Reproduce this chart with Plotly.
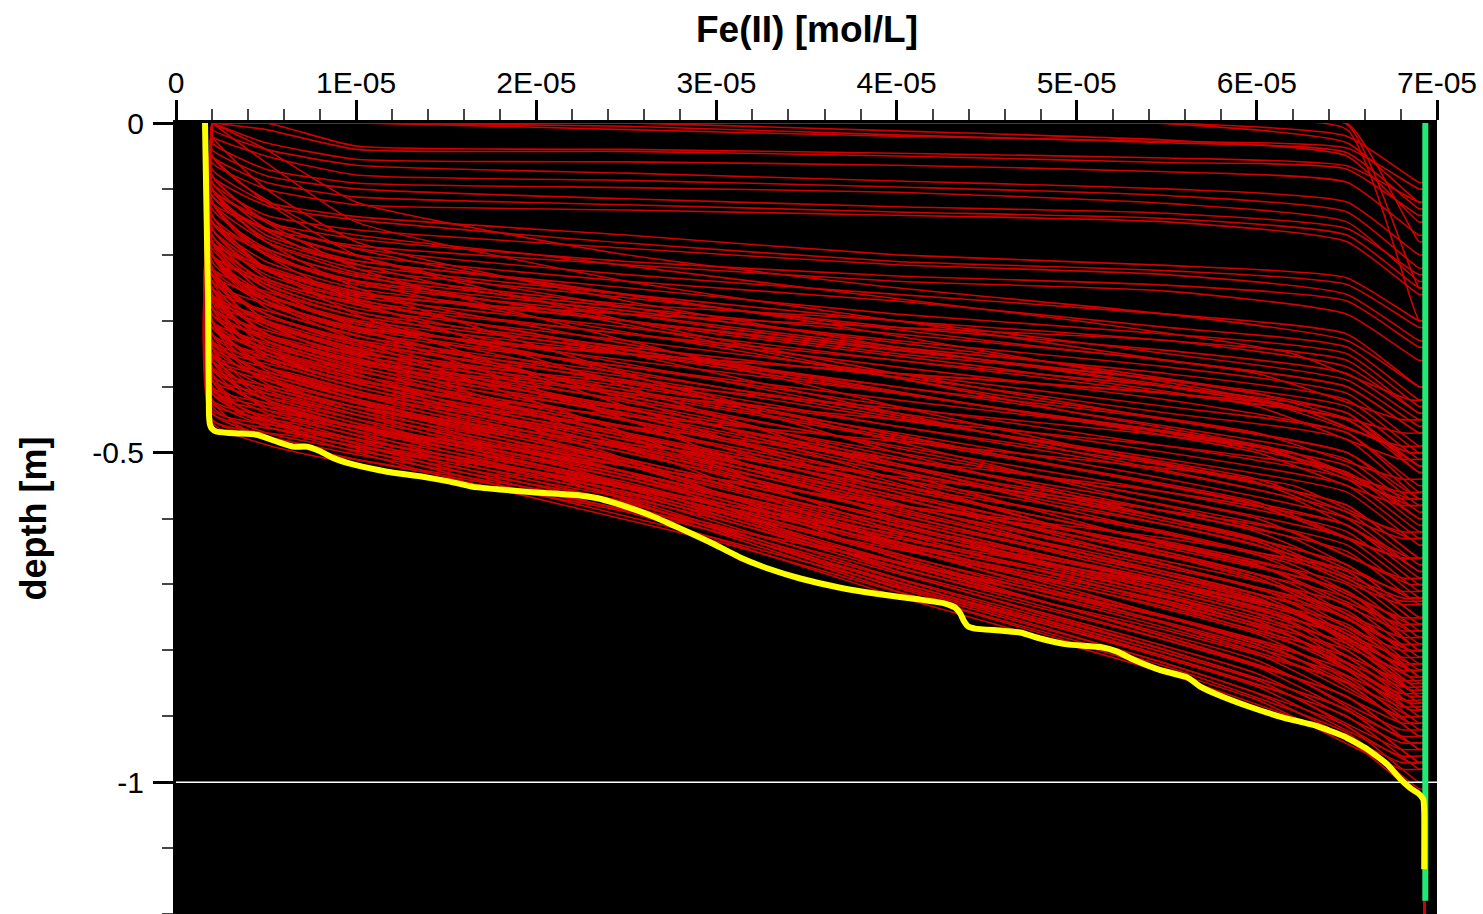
import plotly.graph_objects as go

# ---------------- data (concentrations in units of 1E-05 mol/L, depth in m) -------------
SCALE = 1e-5
X_START = 0.2          # every profile starts at the surface here
X_END = 6.93           # and ends on the right boundary value
Y_BOTTOM = -1.2

# --- profile family A: depth at X_NODES_A
X_NODES_A = [0.2, 0.5, 1.0, 2.5, 4.0, 5.5, 6.5, 6.9]
TOP_LINES = [
    [0, 0, 0, -0.01, -0.02, -0.028, -0.038, -0.10],
    [0, 0, 0, -0.005, -0.018, -0.03, -0.045, -0.13],
    [0, 0, 0, 0, -0.012, -0.026, -0.05, -0.15],
    [0, 0, -0.035, -0.04, -0.046, -0.053, -0.065, -0.12],
    [0, -0.01, -0.04, -0.043, -0.05, -0.06, -0.07, -0.14],
    [0, -0.03, -0.055, -0.059, -0.064, -0.074, -0.09, -0.17],
    [-0.01, -0.04, -0.064, -0.076, -0.088, -0.10, -0.12, -0.20],
    [-0.02, -0.05, -0.079, -0.087, -0.097, -0.11, -0.135, -0.22],
    [-0.03, -0.07, -0.091, -0.098, -0.105, -0.122, -0.15, -0.24],
    [-0.04, -0.08, -0.10, -0.115, -0.127, -0.137, -0.16, -0.23],
    [-0.05, -0.09, -0.112, -0.124, -0.135, -0.145, -0.17, -0.25],
    [-0.06, -0.10, -0.124, -0.132, -0.14, -0.15, -0.18, -0.26],
    [-0.07, -0.12, -0.142, -0.17, -0.20, -0.216, -0.235, -0.30],
    [-0.08, -0.125, -0.147, -0.182, -0.21, -0.224, -0.245, -0.31],
    [-0.09, -0.14, -0.162, -0.19, -0.215, -0.23, -0.26, -0.33],
    [-0.10, -0.15, -0.176, -0.21, -0.232, -0.246, -0.27, -0.34],
    [-0.11, -0.16, -0.186, -0.215, -0.24, -0.255, -0.29, -0.36],
    [0, 0, 0, 0, 0, 0, -0.02, -0.09],
    [0, 0, 0, 0, 0, -0.001, -0.03, -0.12],
    [0, 0, 0, 0, 0, 0, 0, -0.18],
    [0, 0, 0, 0, 0, 0, -0.002, -0.25],
    [0, 0, 0, 0, 0, 0, -0.01, -0.30],
]
MAIN_LINES = [
    [-0.08, -0.15, -0.19, -0.23, -0.26, -0.29, -0.32, -0.40],
    [-0.09, -0.16, -0.20, -0.24, -0.27, -0.31, -0.34, -0.42],
    [-0.10, -0.17, -0.209, -0.25, -0.29, -0.32, -0.35, -0.43],
    [-0.11, -0.175, -0.215, -0.26, -0.30, -0.33, -0.37, -0.44],
    [-0.12, -0.18, -0.221, -0.265, -0.31, -0.345, -0.38, -0.45],
    [-0.10, -0.18, -0.227, -0.275, -0.30, -0.35, -0.39, -0.46],
    [-0.13, -0.19, -0.233, -0.28, -0.32, -0.36, -0.40, -0.47],
    [-0.14, -0.20, -0.239, -0.285, -0.33, -0.37, -0.41, -0.49],
    [-0.12, -0.20, -0.245, -0.29, -0.34, -0.38, -0.42, -0.50],
    [-0.15, -0.21, -0.251, -0.30, -0.345, -0.39, -0.43, -0.51],
    [-0.16, -0.22, -0.257, -0.30, -0.35, -0.39, -0.44, -0.52],
    [-0.14, -0.22, -0.263, -0.31, -0.36, -0.40, -0.44, -0.53],
    [-0.17, -0.23, -0.269, -0.32, -0.36, -0.41, -0.45, -0.53],
    [-0.16, -0.235, -0.275, -0.32, -0.37, -0.42, -0.47, -0.55],
    [-0.18, -0.24, -0.281, -0.33, -0.38, -0.43, -0.47, -0.56],
    [-0.17, -0.245, -0.287, -0.34, -0.385, -0.44, -0.48, -0.57],
    [-0.19, -0.25, -0.293, -0.345, -0.40, -0.45, -0.50, -0.58],
    [-0.20, -0.26, -0.299, -0.35, -0.40, -0.46, -0.51, -0.59],
    [-0.18, -0.26, -0.305, -0.36, -0.41, -0.47, -0.52, -0.60],
    [-0.21, -0.27, -0.311, -0.37, -0.42, -0.47, -0.53, -0.61],
    [-0.22, -0.275, -0.317, -0.37, -0.43, -0.49, -0.54, -0.62],
    [-0.20, -0.28, -0.323, -0.38, -0.44, -0.50, -0.55, -0.63],
    [-0.23, -0.29, -0.329, -0.385, -0.45, -0.51, -0.56, -0.64],
    [-0.24, -0.29, -0.335, -0.39, -0.46, -0.52, -0.58, -0.66],
    [-0.22, -0.30, -0.341, -0.40, -0.46, -0.53, -0.59, -0.67],
    [-0.25, -0.305, -0.347, -0.405, -0.47, -0.54, -0.60, -0.68],
    [-0.26, -0.31, -0.353, -0.41, -0.48, -0.55, -0.61, -0.69],
    [-0.24, -0.32, -0.359, -0.42, -0.49, -0.56, -0.62, -0.70],
    [-0.27, -0.325, -0.365, -0.43, -0.50, -0.57, -0.63, -0.71],
    [-0.28, -0.33, -0.371, -0.435, -0.51, -0.58, -0.64, -0.72],
    [-0.26, -0.34, -0.377, -0.44, -0.52, -0.59, -0.65, -0.73],
    [-0.29, -0.345, -0.383, -0.45, -0.53, -0.60, -0.67, -0.75],
    [-0.30, -0.35, -0.389, -0.46, -0.54, -0.61, -0.68, -0.76],
    [-0.28, -0.355, -0.395, -0.47, -0.55, -0.62, -0.69, -0.77],
    [-0.31, -0.36, -0.401, -0.475, -0.555, -0.635, -0.70, -0.78],
    [-0.32, -0.37, -0.407, -0.48, -0.565, -0.645, -0.71, -0.79],
    [-0.30, -0.375, -0.413, -0.49, -0.57, -0.655, -0.72, -0.80],
    [-0.33, -0.38, -0.419, -0.495, -0.58, -0.665, -0.73, -0.81],
    [-0.34, -0.39, -0.425, -0.50, -0.59, -0.675, -0.74, -0.82],
    [-0.32, -0.395, -0.431, -0.51, -0.60, -0.685, -0.75, -0.83],
    [-0.35, -0.40, -0.437, -0.515, -0.61, -0.695, -0.77, -0.85],
    [-0.36, -0.41, -0.443, -0.52, -0.62, -0.705, -0.78, -0.86],
    [-0.34, -0.415, -0.449, -0.53, -0.63, -0.715, -0.79, -0.87],
    [-0.37, -0.42, -0.455, -0.535, -0.64, -0.725, -0.80, -0.88],
    [-0.38, -0.43, -0.461, -0.54, -0.645, -0.735, -0.81, -0.89],
    [-0.36, -0.435, -0.467, -0.545, -0.655, -0.75, -0.83, -0.91],
    [-0.39, -0.44, -0.473, -0.55, -0.665, -0.76, -0.84, -0.92],
    [-0.40, -0.45, -0.479, -0.555, -0.675, -0.77, -0.85, -0.93],
    [-0.41, -0.455, -0.485, -0.56, -0.68, -0.785, -0.87, -0.95],
    [-0.42, -0.46, -0.491, -0.565, -0.69, -0.80, -0.89, -0.97],
    [-0.43, -0.47, -0.497, -0.57, -0.70, -0.81, -0.90, -0.98],
    [-0.44, -0.475, -0.503, -0.575, -0.705, -0.82, -0.915, -1.00],
    [-0.45, -0.48, -0.51, -0.58, -0.71, -0.825, -0.925, -1.01],
    [-0.455, -0.488, -0.518, -0.59, -0.718, -0.835, -0.935, -1.02],
]
STEEP_LINES = [
    [0, -0.04, -0.12, -0.20, -0.25, -0.29, -0.33, -0.40],
    [0, -0.06, -0.15, -0.24, -0.30, -0.36, -0.40, -0.47],
    [-0.02, -0.10, -0.18, -0.27, -0.34, -0.40, -0.45, -0.52],
    [-0.05, -0.12, -0.20, -0.30, -0.38, -0.45, -0.50, -0.57],
    [-0.08, -0.15, -0.22, -0.33, -0.43, -0.52, -0.58, -0.66],
    [-0.10, -0.18, -0.25, -0.38, -0.50, -0.60, -0.67, -0.75],
    [-0.12, -0.20, -0.27, -0.40, -0.53, -0.64, -0.71, -0.80],
    [-0.15, -0.22, -0.29, -0.43, -0.56, -0.67, -0.75, -0.84],
    [-0.18, -0.25, -0.31, -0.45, -0.60, -0.70, -0.78, -0.87],
    [-0.20, -0.27, -0.33, -0.47, -0.62, -0.73, -0.82, -0.90],
    [-0.22, -0.30, -0.35, -0.49, -0.64, -0.76, -0.85, -0.93],
    [-0.26, -0.33, -0.38, -0.51, -0.66, -0.78, -0.87, -0.95],
    [-0.30, -0.37, -0.42, -0.53, -0.68, -0.80, -0.89, -0.97],
]
FLAT_LINES = [
    [-0.15, -0.22, -0.26, -0.29, -0.31, -0.33, -0.36, -0.44],
    [-0.20, -0.27, -0.31, -0.35, -0.38, -0.41, -0.45, -0.52],
    [-0.25, -0.32, -0.36, -0.41, -0.45, -0.49, -0.53, -0.60],
    [-0.30, -0.37, -0.41, -0.46, -0.51, -0.56, -0.61, -0.68],
    [-0.35, -0.42, -0.46, -0.52, -0.58, -0.63, -0.68, -0.76],
    [-0.40, -0.46, -0.49, -0.55, -0.63, -0.70, -0.76, -0.84],
]

# --- profile family B: depth at X_NODES_B
X_NODES_B = [0.2, 0.7, 1.5, 3.0, 4.5, 6.0, 6.8]
LATE_LINES = [
    [-0.10, -0.17, -0.22, -0.28, -0.33, -0.38, -0.45],
    [-0.12, -0.18, -0.233, -0.30, -0.35, -0.41, -0.47],
    [-0.11, -0.19, -0.246, -0.31, -0.36, -0.42, -0.49],
    [-0.15, -0.21, -0.258, -0.32, -0.37, -0.43, -0.51],
    [-0.15, -0.22, -0.271, -0.34, -0.41, -0.47, -0.54],
    [-0.18, -0.235, -0.284, -0.36, -0.43, -0.49, -0.56],
    [-0.18, -0.245, -0.297, -0.365, -0.43, -0.50, -0.58],
    [-0.20, -0.255, -0.306, -0.37, -0.43, -0.49, -0.57],
    [-0.20, -0.265, -0.316, -0.39, -0.47, -0.54, -0.62],
    [-0.22, -0.272, -0.326, -0.40, -0.47, -0.545, -0.63],
    [-0.23, -0.28, -0.335, -0.42, -0.50, -0.58, -0.66],
    [-0.24, -0.29, -0.345, -0.42, -0.50, -0.575, -0.66],
    [-0.25, -0.30, -0.354, -0.43, -0.50, -0.58, -0.66],
    [-0.26, -0.31, -0.364, -0.44, -0.52, -0.60, -0.69],
    [-0.265, -0.316, -0.37, -0.45, -0.535, -0.62, -0.71],
    [-0.27, -0.32, -0.377, -0.46, -0.545, -0.63, -0.72],
    [-0.28, -0.33, -0.383, -0.46, -0.55, -0.635, -0.725],
    [-0.29, -0.335, -0.39, -0.47, -0.555, -0.64, -0.73],
    [-0.29, -0.34, -0.396, -0.48, -0.57, -0.655, -0.75],
    [-0.30, -0.347, -0.402, -0.49, -0.58, -0.67, -0.76],
    [-0.31, -0.353, -0.409, -0.49, -0.58, -0.67, -0.77],
    [-0.31, -0.36, -0.415, -0.50, -0.59, -0.685, -0.78],
    [-0.32, -0.365, -0.422, -0.51, -0.60, -0.69, -0.79],
    [-0.33, -0.372, -0.428, -0.515, -0.61, -0.705, -0.80],
    [-0.335, -0.378, -0.434, -0.52, -0.62, -0.715, -0.81],
    [-0.34, -0.384, -0.441, -0.53, -0.625, -0.72, -0.82],
    [-0.35, -0.39, -0.447, -0.54, -0.635, -0.735, -0.83],
    [-0.355, -0.396, -0.454, -0.545, -0.645, -0.745, -0.845],
    [-0.36, -0.403, -0.46, -0.55, -0.65, -0.755, -0.855],
    [-0.37, -0.41, -0.466, -0.56, -0.66, -0.765, -0.865],
    [-0.375, -0.415, -0.473, -0.565, -0.67, -0.775, -0.875],
    [-0.385, -0.42, -0.479, -0.57, -0.68, -0.785, -0.885],
    [-0.39, -0.427, -0.486, -0.58, -0.69, -0.795, -0.90],
    [-0.40, -0.434, -0.492, -0.585, -0.695, -0.805, -0.91],
    [-0.405, -0.44, -0.498, -0.595, -0.705, -0.815, -0.92],
    [-0.41, -0.446, -0.505, -0.60, -0.71, -0.825, -0.93],
    [-0.42, -0.452, -0.511, -0.61, -0.72, -0.835, -0.94],
    [-0.425, -0.458, -0.518, -0.615, -0.73, -0.845, -0.95],
    [-0.435, -0.465, -0.524, -0.62, -0.735, -0.855, -0.96],
    [-0.44, -0.471, -0.53, -0.63, -0.74, -0.865, -0.97],
    [-0.45, -0.477, -0.537, -0.635, -0.75, -0.875, -0.98],
]

# --- profile family C: depth at X_NODES_C
X_NODES_C = [0.2, 0.35, 0.8, 2.0, 3.5, 5.0, 6.2, 6.85]
CROSS_LINES = [
    [-0.05, -0.09, -0.16, -0.20, -0.25, -0.30, -0.35, -0.42],
    [-0.10, -0.14, -0.20, -0.24, -0.30, -0.37, -0.43, -0.50],
    [-0.12, -0.17, -0.23, -0.28, -0.36, -0.44, -0.50, -0.58],
    [-0.16, -0.20, -0.26, -0.32, -0.41, -0.50, -0.57, -0.66],
    [-0.20, -0.24, -0.29, -0.35, -0.45, -0.55, -0.63, -0.72],
    [-0.22, -0.27, -0.32, -0.38, -0.48, -0.59, -0.67, -0.76],
    [-0.25, -0.30, -0.35, -0.41, -0.51, -0.62, -0.71, -0.80],
    [-0.28, -0.33, -0.38, -0.44, -0.54, -0.65, -0.74, -0.84],
    [-0.30, -0.35, -0.40, -0.46, -0.57, -0.68, -0.78, -0.88],
    [-0.33, -0.37, -0.42, -0.48, -0.60, -0.71, -0.81, -0.91],
    [-0.36, -0.40, -0.45, -0.51, -0.63, -0.74, -0.84, -0.94],
    [-0.39, -0.43, -0.47, -0.53, -0.66, -0.77, -0.87, -0.97],
    [-0.18, -0.24, -0.30, -0.34, -0.37, -0.40, -0.43, -0.50],
    [-0.22, -0.28, -0.34, -0.38, -0.42, -0.46, -0.50, -0.57],
    [-0.26, -0.32, -0.38, -0.43, -0.47, -0.51, -0.55, -0.63],
    [-0.30, -0.36, -0.42, -0.47, -0.52, -0.57, -0.62, -0.70],
    [-0.34, -0.40, -0.45, -0.50, -0.56, -0.62, -0.68, -0.77],
    [-0.38, -0.43, -0.48, -0.53, -0.60, -0.67, -0.74, -0.83],
    [-0.42, -0.46, -0.50, -0.56, -0.64, -0.72, -0.80, -0.90],
    [-0.20, -0.25, -0.30, -0.38, -0.50, -0.62, -0.70, -0.80],
    [-0.23, -0.28, -0.33, -0.41, -0.53, -0.64, -0.72, -0.82],
    [-0.27, -0.32, -0.36, -0.44, -0.55, -0.65, -0.73, -0.83],
    [-0.30, -0.34, -0.38, -0.46, -0.56, -0.66, -0.74, -0.85],
    [-0.33, -0.37, -0.41, -0.48, -0.58, -0.67, -0.75, -0.86],
    [-0.35, -0.39, -0.43, -0.50, -0.59, -0.68, -0.76, -0.87],
    [-0.37, -0.41, -0.45, -0.52, -0.61, -0.69, -0.77, -0.88],
    [-0.40, -0.44, -0.47, -0.53, -0.62, -0.70, -0.78, -0.89],
]

# highlighted (yellow) profile
YELLOW_X = [0.161, 0.178, 0.183, 0.189, 0.200, 0.222, 0.283, 0.355, 0.450, 0.577,
            0.650, 0.727, 0.800, 0.872, 0.983, 1.172, 1.355, 1.521, 1.649, 1.799,
            2.021, 2.243, 2.354, 2.465, 2.632, 2.798, 2.965, 3.131, 3.298, 3.465,
            3.687, 3.909, 4.131, 4.270, 4.325, 4.353, 4.375, 4.398, 4.436, 4.575,
            4.686, 4.797, 4.947, 5.130, 5.225, 5.314, 5.464, 5.614, 5.686, 5.780,
            5.963, 6.147, 6.335, 6.480, 6.613, 6.724, 6.796, 6.852, 6.896, 6.924,
            6.929, 6.929]
YELLOW_D = [0.000, -0.268, -0.442, -0.458, -0.464, -0.468, -0.470, -0.471, -0.473, -0.485,
            -0.491, -0.491, -0.498, -0.508, -0.518, -0.529, -0.536, -0.544, -0.552, -0.556,
            -0.561, -0.565, -0.570, -0.579, -0.595, -0.615, -0.636, -0.659, -0.677, -0.691,
            -0.705, -0.715, -0.723, -0.729, -0.735, -0.744, -0.756, -0.764, -0.767, -0.770,
            -0.773, -0.782, -0.791, -0.795, -0.802, -0.814, -0.830, -0.841, -0.855, -0.867,
            -0.886, -0.902, -0.915, -0.930, -0.950, -0.973, -0.995, -1.009, -1.017, -1.026,
            -1.045, -1.132]

# boundary profile (green)
GREEN_X = [6.935, 6.935]
GREEN_D = [0.0, -1.18]

REF_X = [0.0, 7.0]
REF_D = [-1.0, -1.0]

X_TICKS = [0, 1, 2, 3, 4, 5, 6, 7]
X_TICK_TEXT = ["0", "1E-05", "2E-05", "3E-05", "4E-05", "5E-05", "6E-05", "7E-05"]
Y_TICKS = [0, -0.5, -1]
Y_TICK_TEXT = ["0", "-0.5", "-1"]

# ---------------- figure -----------------
curve_x, curve_y = [], []   # smooth part of every profile
tail_x, tail_y = [], []     # straight part along the right boundary
families = [
    (X_NODES_A, TOP_LINES + MAIN_LINES + STEEP_LINES + FLAT_LINES),
    (X_NODES_B, LATE_LINES),
    (X_NODES_C, CROSS_LINES),
]
for nodes, rows in families:
    for row in rows:
        xs = [X_START] + nodes + [X_END]
        ds = [0.0] + row + [row[-1]]
        curve_x += [v * SCALE for v in xs] + [None]
        curve_y += ds + [None]
        tail_x += [X_END * SCALE, X_END * SCALE, None]
        tail_y += [row[-1], Y_BOTTOM, None]

RED = "#d20000"
fig = go.Figure()
fig.add_trace(go.Scatter(x=curve_x, y=curve_y, mode="lines",
                         line=dict(color=RED, width=1.6, shape="spline", smoothing=0.5),
                         hoverinfo="skip"))
fig.add_trace(go.Scatter(x=tail_x, y=tail_y, mode="lines",
                         line=dict(color=RED, width=1.6), hoverinfo="skip"))
fig.add_trace(go.Scatter(x=[v * SCALE for v in REF_X], y=REF_D, mode="lines",
                         line=dict(color="white", width=1.5), hoverinfo="skip"))
fig.add_trace(go.Scatter(x=[v * SCALE for v in GREEN_X], y=GREEN_D, mode="lines",
                         line=dict(color="#1fe977", width=6), hoverinfo="skip"))
fig.add_trace(go.Scatter(x=[v * SCALE for v in YELLOW_X], y=YELLOW_D, mode="lines",
                         line=dict(color="#ffff00", width=6, shape="spline", smoothing=0.4),
                         hoverinfo="skip"))

FONT = "Liberation Sans, Arial, Helvetica, sans-serif"
fig.update_layout(
    width=1483, height=914,
    margin=dict(l=176, r=46, t=123, b=0, pad=0),
    paper_bgcolor="white", plot_bgcolor="black",
    showlegend=False,
    font=dict(family=FONT, size=30, color="black"),
    xaxis=dict(
        side="top", range=[0, 7e-5], showgrid=False, zeroline=False,
        tickmode="array", tickvals=[v * SCALE for v in X_TICKS], ticktext=X_TICK_TEXT,
        ticks="outside", ticklen=20, tickwidth=3, tickcolor="black",
        showline=True, linecolor="black", linewidth=3,
        tickfont=dict(family=FONT, size=30, color="black"),
        minor=dict(dtick=2e-6, ticks="outside", ticklen=11, tickwidth=1.5,
                   tickcolor="#444444", showgrid=False),
        ticklabelstandoff=-5,
    ),
    yaxis=dict(
        range=[-1.2, 0], showgrid=False, zeroline=False,
        tickmode="array", tickvals=Y_TICKS, ticktext=Y_TICK_TEXT,
        ticks="outside", ticklen=20, tickwidth=3, tickcolor="black",
        showline=True, linecolor="black", linewidth=3,
        tickfont=dict(family=FONT, size=30, color="black"),
        minor=dict(dtick=0.1, ticks="outside", ticklen=11, tickwidth=1.5,
                   tickcolor="#444444", showgrid=False),
        ticklabelstandoff=3,
    ),
    annotations=[
        dict(text="<b>Fe(II) [mol/L]</b>", xref="paper", yref="paper",
             x=0.5, y=1 + 93 / 791, xanchor="center", yanchor="middle",
             showarrow=False, font=dict(family=FONT, size=37, color="black")),
        dict(text="<b>depth [m]</b>", xref="paper", yref="paper",
             x=-(176 - 33) / 1261, y=0.5, xanchor="center", yanchor="middle",
             textangle=-90, showarrow=False,
             font=dict(family=FONT, size=36, color="black")),
    ],
)

fig.write_html("out.html")
